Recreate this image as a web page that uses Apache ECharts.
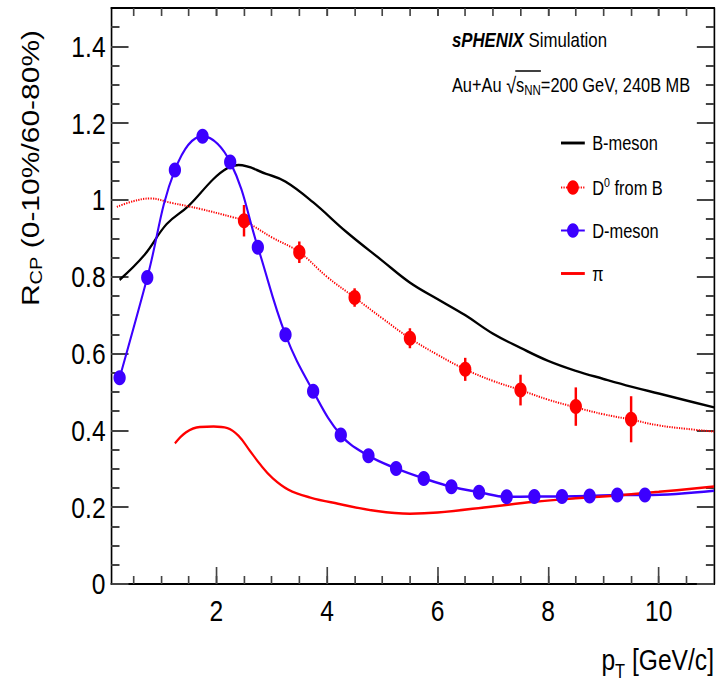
<!DOCTYPE html>
<html>
<head>
<meta charset="utf-8">
<script src="https://cdn.jsdelivr.net/npm/echarts@6/dist/echarts.min.js"></script>
<style>
  html, body { margin: 0; padding: 0; background: #fff; overflow: hidden; }
  #frame { width: 716px; height: 681px; overflow: hidden; }
  /* the canvas is laid out wide and squeezed horizontally to 716 px */
  #chart { width: 873px; height: 681px; transform: scaleX(0.8202); transform-origin: 0 0; }
</style>
</head>
<body>
<div id="frame"><div id="chart"></div></div>
<script>
// ---- data: R_CP (0-10% / 60-80%) versus pT [GeV/c] ----
const bMeson = [
  [0.25, 0.792], [0.7, 0.857], [1.1, 0.937], [1.5, 0.985], [1.95, 1.055],
  [2.2, 1.083], [2.4, 1.091], [2.9, 1.068], [3.25, 1.048], [3.75, 0.994],
  [4.35, 0.917], [5.0, 0.842], [5.5, 0.785], [6.0, 0.742], [6.5, 0.700],
  [7.0, 0.652], [7.5, 0.615], [8.0, 0.581], [8.5, 0.555], [9.0, 0.534],
  [9.5, 0.514], [10.0, 0.496], [10.5, 0.478], [11.0, 0.460]
];

// D0 from B: fitted curve (dotted) and simulated points with errors
const d0Curve = [
  [0.2, 0.982], [0.5, 0.997], [0.8, 1.004], [1.2, 0.992], [1.7, 0.977],
  [2.3, 0.955], [2.5, 0.946], [3.0, 0.903], [3.5, 0.864], [4.0, 0.800],
  [4.5, 0.746], [5.0, 0.692], [5.5, 0.640], [6.0, 0.597], [6.5, 0.559],
  [7.0, 0.529], [7.5, 0.505], [8.0, 0.480], [8.5, 0.460], [9.0, 0.442],
  [9.5, 0.428], [10.0, 0.413], [10.5, 0.404], [11.0, 0.397]
];
const d0Pt  = [2.5, 3.5, 4.5, 5.5, 6.5, 7.5, 8.5, 9.5];
const d0Val = [0.946, 0.864, 0.746, 0.640, 0.559, 0.505, 0.462, 0.429];
const d0Err = [0.041, 0.028, 0.024, 0.026, 0.030, 0.040, 0.050, 0.060];

// D-meson points and the end of its curve
const dMeson = [
  [0.25, 0.537], [0.75, 0.798], [1.25, 1.078], [1.75, 1.166], [2.25, 1.099],
  [2.75, 0.877], [3.25, 0.649], [3.75, 0.502], [4.25, 0.388], [4.75, 0.334],
  [5.25, 0.301], [5.75, 0.275], [6.25, 0.253], [6.75, 0.239], [7.25, 0.227],
  [7.75, 0.228], [8.25, 0.228], [8.75, 0.229], [9.25, 0.232], [9.75, 0.232]
];
const dMesonEnd = [11.0, 0.243];

const pion = [
  [1.25, 0.366], [1.45, 0.395], [1.7, 0.409], [1.95, 0.410], [2.2, 0.406],
  [2.4, 0.386], [2.6, 0.348], [2.8, 0.310], [3.0, 0.278], [3.3, 0.246],
  [3.7, 0.225], [4.2, 0.209], [4.9, 0.190], [5.5, 0.183], [6.0, 0.186],
  [7.0, 0.202], [7.75, 0.214], [8.5, 0.223], [9.2, 0.230], [10.0, 0.240],
  [11.0, 0.254]
];

// ---- axes ----
const xRange = [0.1, 11];
const yRange = [0, 1.5];
const xMajor = [2, 4, 6, 8, 10];
const yMajor = [0, 0.2, 0.4, 0.6, 0.8, 1, 1.2, 1.4];
const xMinor = [];
for (let k = 1; k <= 21; k++) xMinor.push(k * 0.5);
const yMinor = [];
for (let k = 1; k <= 29; k++) yMinor.push(+(k * 0.05).toFixed(2));

const FONT = "'Liberation Sans', Arial, Helvetica, sans-serif";
const BLUE = '#3c00ff';
const RED = '#ff0000';
const TICK = { color: '#444', width: 2 };
const LINE_ICON = 'path://M0,0H30V3H0Z';

function axis(kind, position, ticks, len, labels, line) {
  return {
    type: 'value',
    position: position,
    min: kind === 'x' ? xRange[0] : yRange[0],
    max: kind === 'x' ? xRange[1] : yRange[1],
    splitLine: { show: false },
    axisLine: { show: line, onZero: false, lineStyle: { color: '#000', width: 2 } },
    axisTick: { show: true, inside: true, length: len, customValues: ticks, lineStyle: TICK },
    axisLabel: labels
      ? { show: true, customValues: ticks, fontFamily: FONT, fontSize: 30, color: '#000',
          margin: kind === 'x' ? 12 : 7 }
      : { show: false }
  };
}

function renderD0(params, api) {
  const x = api.value(0), v = api.value(1), e = api.value(2);
  const c = api.coord([x, v]);
  const lo = api.coord([x, v - e]);
  const hi = api.coord([x, v + e]);
  return {
    type: 'group',
    children: [
      { type: 'line', shape: { x1: c[0], y1: lo[1], x2: c[0], y2: hi[1] },
        style: { stroke: RED, lineWidth: 3 } },
      { type: 'circle', shape: { cx: c[0], cy: c[1], r: 7.5 }, style: { fill: RED } }
    ]
  };
}

// text widths for the collision-system label (overline over s_NN)
const ctx = document.createElement('canvas').getContext('2d');
function w(str, size) { ctx.font = size + 'px ' + FONT; return ctx.measureText(str).width; }
const sysX = 551, sysY = 85;
const olStart = sysX + w('Au+Au ', 20) + w('√', 22) - 1;
const olEnd = olStart + 1 + w('s', 20) + w('NN', 14);

const chart = echarts.init(document.getElementById('chart'), null, { renderer: 'svg' });
chart.setOption({
  animation: false,
  backgroundColor: '#fff',
  grid: { left: 135.7, right: 2.4, top: 8, bottom: 97 },
  xAxis: [
    axis('x', 'bottom', xMajor, 17, true, true),
    axis('x', 'bottom', xMinor, 8, false, false),
    axis('x', 'top', xMajor, 8, false, true),
    axis('x', 'top', xMinor, 8, false, false)
  ],
  yAxis: [
    axis('y', 'left', yMajor, 21, true, true),
    axis('y', 'left', yMinor, 10, false, false),
    axis('y', 'right', yMajor, 21, false, true),
    axis('y', 'right', yMinor, 10, false, false)
  ],
  legend: {
    data: [
      { name: 'B-meson', icon: LINE_ICON },
      { name: 'D0 from B' },
      { name: 'D-meson' },
      { name: 'π', icon: LINE_ICON }
    ],
    orient: 'vertical',
    left: 683,
    top: 133,
    padding: 0,
    itemWidth: 29,
    itemHeight: 18,
    itemGap: 23,
    selectedMode: false,
    formatter: n => (n === 'D0 from B' ? 'D{sup|0} from B' : n),
    textStyle: {
      fontFamily: FONT, fontSize: 20, color: '#000', lineHeight: 20, padding: [0, 0, 0, 4],
      rich: { sup: { fontFamily: FONT, fontSize: 13, padding: [0, 0, 10, 0] } }
    }
  },
  series: [
    {
      name: 'B-meson', type: 'line', data: bMeson, smooth: 0.4, symbol: 'none',
      lineStyle: { color: '#000', width: 2.5 }, itemStyle: { color: '#000' }
    },
    {
      name: 'D0 from B', type: 'line', smooth: 0.4,
      data: d0Curve.map(p => ({ value: p, symbol: 'none' })),
      symbol: 'circle', symbolSize: 15,
      lineStyle: { color: RED, width: 2, type: [1.5, 1.5] }, itemStyle: { color: RED }
    },
    {
      name: 'D0 points', type: 'custom', renderItem: renderD0, z: 3,
      data: d0Pt.map((x, i) => [x, d0Val[i], d0Err[i]])
    },
    {
      name: 'D-meson', type: 'line', smooth: 0.4,
      data: dMeson.map(p => ({ value: p })).concat([{ value: dMesonEnd, symbol: 'none' }]),
      symbol: 'circle', symbolSize: 15, showAllSymbol: true,
      lineStyle: { color: BLUE, width: 2.5 }, itemStyle: { color: BLUE }
    },
    {
      name: 'π', type: 'line', data: pion, smooth: 0.4, symbol: 'none',
      lineStyle: { color: RED, width: 2.5 }, itemStyle: { color: RED }
    }
  ],
  graphic: [
    {
      type: 'text', x: 551, y: 40,
      style: {
        text: '{b|sPHENIX} Simulation', fontFamily: FONT, fontSize: 20.5, fill: '#000',
        verticalAlign: 'middle',
        rich: { b: { fontFamily: FONT, fontSize: 20.5, fontWeight: 'bold', fontStyle: 'italic' } }
      }
    },
    {
      type: 'text', x: sysX, y: sysY,
      style: {
        text: 'Au+Au {rt|√}s{sub|NN}=200 GeV, 240B MB', fontFamily: FONT, fontSize: 20, fill: '#000',
        verticalAlign: 'middle',
        rich: {
          rt: { fontFamily: FONT, fontSize: 22 },
          sub: { fontFamily: FONT, fontSize: 14, padding: [10, 0, 0, 0] }
        }
      }
    },
    {
      type: 'line', shape: { x1: olStart, y1: 71, x2: olEnd, y2: 71 },
      style: { stroke: '#000', lineWidth: 1.5 }
    },
    {
      type: 'text', x: 36.6, y: 168, rotation: Math.PI / 2,
      style: {
        text: 'R{sub|CP} (0-10%/60-80%)', fontFamily: FONT, fontSize: 30, fill: '#000',
        align: 'center', verticalAlign: 'middle',
        rich: { sub: { fontFamily: FONT, fontSize: 20, padding: [14, 0, 0, 0] } }
      }
    },
    {
      type: 'text', x: 870.5, y: 660,
      style: {
        text: 'p{sub|T} [GeV/c]', fontFamily: FONT, fontSize: 30, fill: '#000',
        align: 'right', verticalAlign: 'middle',
        rich: { sub: { fontFamily: FONT, fontSize: 20, padding: [22, 0, 0, 0] } }
      }
    }
  ]
});
</script>
</body>
</html>
